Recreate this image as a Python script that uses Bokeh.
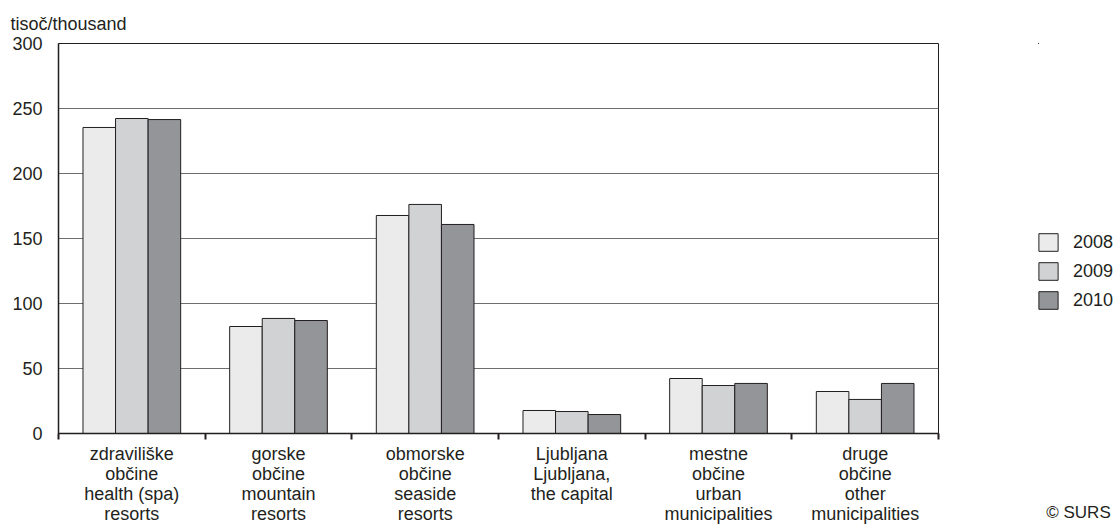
import numpy as np
from bokeh.plotting import figure
from bokeh.layouts import row
from bokeh.models import (ColumnDataSource, FixedTicker, Legend, LegendItem, Range1d, Title,
                          LinearAxis)
from bokeh.transform import dodge
from bokeh.embed import file_html
from bokeh.resources import INLINE

categories = [
    "zdraviliške\nobčine\nhealth (spa)\nresorts",
    "gorske\nobčine\nmountain\nresorts",
    "obmorske\nobčine\nseaside\nresorts",
    "Ljubljana\nLjubljana,\nthe capital",
    "mestne\nobčine\nurban\nmunicipalities",
    "druge\nobčine\nother\nmunicipalities",
]
years = ["2008", "2009", "2010"]
v2008 = [235.4, 82.3, 167.7, 17.7, 42.3, 32.3]
v2009 = [242.3, 88.5, 176.2, 16.9, 36.9, 26.2]
v2010 = [241.5, 86.9, 160.8, 14.6, 38.5, 38.5]
y_ticks = [0, 50, 100, 150, 200, 250, 300]
y_label = "tisoč/thousand"
source_note = "© SURS"

colors = ["#ebebeb", "#d1d2d4", "#939598"]
offsets = [-0.222, 0.0, 0.222]
bar_w = 0.222
FONT = "Liberation Sans"
TXT = "#231f20"

n = len(categories)
centers = np.arange(n) + 0.5
src = ColumnDataSource(dict(x=centers, y2008=v2008, y2009=v2009, y2010=v2010))

p = figure(
    frame_width=880, frame_height=390,
    x_range=Range1d(0, n), y_range=Range1d(0, 300),
    output_backend="svg", toolbar_location=None,
    min_border_left=58, min_border_top=43, min_border_right=2, min_border_bottom=60,
)
p.background_fill_color = "white"
p.border_fill_color = "white"
p.outline_line_color = TXT
p.outline_line_width = 1

for yr, col, off in zip(years, colors, offsets):
    p.vbar(x=dodge("x", off, range=p.x_range), top="y" + yr, width=bar_w, source=src,
           fill_color=col, line_color=TXT, line_width=1)

# grid
p.xgrid.visible = False
p.ygrid.ticker = FixedTicker(ticks=y_ticks)
p.ygrid.grid_line_color = "#6d6e71"
p.ygrid.grid_line_width = 1

# y axis
ya = p.yaxis[0]
ya.ticker = FixedTicker(ticks=y_ticks)
ya.major_tick_out = 0
ya.major_tick_in = 0
ya.minor_tick_out = 0
ya.minor_tick_in = 0
ya.axis_line_color = TXT
ya.axis_line_width = 1.5
ya.major_label_standoff = 16
ya.major_label_text_font = FONT
ya.major_label_text_font_size = "18px"
ya.major_label_text_color = TXT

# x axis
xa = p.xaxis[0]
xa.ticker = FixedTicker(ticks=list(centers), minor_ticks=list(range(n + 1)))
xa.major_label_overrides = {float(c): lab for c, lab in zip(centers, categories)}
xa.major_tick_out = 0
xa.major_tick_in = 0
xa.minor_tick_out = 6
xa.minor_tick_in = 0
xa.minor_tick_line_color = TXT
xa.minor_tick_line_width = 2
xa.axis_line_color = TXT
xa.axis_line_width = 1.5
xa.major_label_standoff = 4
xa.major_label_text_font = FONT
xa.major_label_text_font_size = "18px"
xa.major_label_text_color = TXT
xa.major_label_text_line_height = 1.0

p.add_layout(Title(text=y_label, align="left", offset=-48, standoff=19,
                   text_font=FONT, text_font_size="18px", text_color=TXT,
                   text_font_style="normal"), "above")

# side figure holding the legend and the source note
p2 = figure(width=178, height=525, x_range=Range1d(10, 11), y_range=Range1d(-2, -1),
            x_axis_location=None, y_axis_location=None,
            min_border_left=98, min_border_right=0, min_border_top=0, min_border_bottom=0,
            output_backend="svg", toolbar_location=None)
p2.outline_line_color = None
p2.grid.visible = False
p2.background_fill_color = "white"
p2.border_fill_color = "white"

swatches = []
for yr, col in zip(years, colors):
    r = p2.vbar(x="x", top="y" + yr, width=0.1, source=src,
                fill_color=col, line_color=TXT, line_width=1)
    swatches.append(r)

legend = Legend(
    items=[LegendItem(label=yr, renderers=[r]) for yr, r in zip(years, swatches)],
    location=(-2, 121), orientation="vertical",
    glyph_width=24, glyph_height=22, spacing=7, padding=0, margin=0,
    label_standoff=13, label_text_font=FONT, label_text_font_size="18px",
    label_text_color=TXT, border_line_color=None, background_fill_alpha=0,
)
p2.add_layout(legend)

note_axis = LinearAxis(ticker=FixedTicker(ticks=[]), axis_label=source_note)
note_axis.axis_line_color = None
note_axis.major_tick_line_color = None
note_axis.minor_tick_line_color = None
note_axis.major_tick_out = 0
note_axis.major_tick_in = 0
note_axis.minor_tick_out = 0
note_axis.minor_tick_in = 0
note_axis.major_label_standoff = 0
note_axis.axis_label_standoff = 70
note_axis.axis_label_text_font = FONT
note_axis.axis_label_text_font_size = "17px"
note_axis.axis_label_text_font_style = "normal"
note_axis.axis_label_text_color = TXT
p2.add_layout(note_axis, "below")

open("out.html", "w").write(file_html(row(p, p2), INLINE))
